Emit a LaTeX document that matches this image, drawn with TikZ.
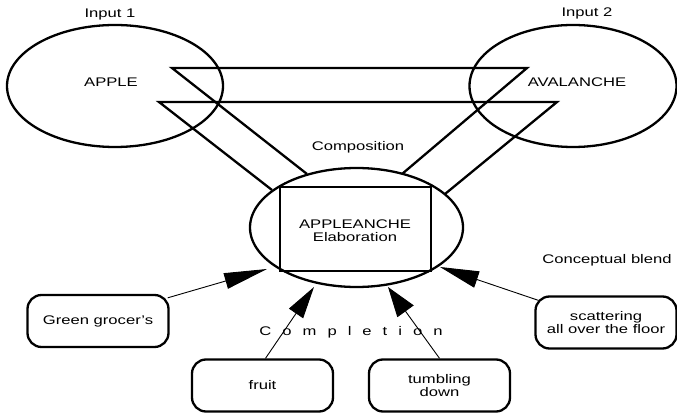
\documentclass[tikz,border=0pt]{standalone}
\usepackage{fontspec}
\setmainfont{Liberation Sans}[FakeStretch=1.33]
\usetikzlibrary{shapes.geometric,arrows.meta}
\newcommand{\spreadletters}[1]{\foreach \ch [count=\i] in {#1}{\ifnum\i>1\hspace{11pt}\fi\ch}}
\begin{document}
\begin{tikzpicture}[x=1pt,y=-1pt,
  every node/.style={font=\fontsize{12.5}{14}\selectfont, inner sep=0pt},
  bubble/.style={draw, ellipse, line width=2.3pt},
  funnel/.style={line width=2.3pt},
  frame/.style={draw, line width=2.6pt},
  itembox/.style={draw, rounded corners=14pt, line width=2.3pt, minimum width=141pt, minimum height=52pt, align=center},
  feed/.style={line width=0.9pt},
]
\useasboundingbox (0,0) rectangle (677,414);

% input spaces and the blended space
\node[bubble, minimum width=216pt, minimum height=122pt] (in1) at (115,86) {};
\node[bubble, minimum width=207pt, minimum height=122pt] (in2) at (573,86) {};
\node[bubble, minimum width=213pt, minimum height=119pt] (blend) at (356.5,227.5) {};

\node (apple) at (111,82) {APPLE};
\node (aval) at (577,82) {AVALANCHE};
\node (lab1) at (110,14) {Input 1};
\node (lab2) at (587,13) {Input 2};

% projection funnels from the inputs into the blend
\coordinate (fa) at (172,68);
\coordinate (fb) at (527,68);
\coordinate (fc) at (307,174);
\coordinate (fd) at (402,174);
\coordinate (ga) at (159,102);
\coordinate (gb) at (557,102);
\coordinate (gc) at (272,190);
\coordinate (gd) at (445,194);
\draw[funnel] (fc) -- (fa) -- (fb) -- (fd);
\draw[funnel] (gc) -- (ga) -- (gb) -- (gd);

\node (comp) at (358,147) {Composition};

% elaboration frame inside the blend
\node[frame, minimum width=151pt, minimum height=84pt] (elab) at (355.5,229) {};
\node[align=center] (elabtext) at (355,231) {APPLEANCHE\\[-1pt]Elaboration};

\node (cb) at (607,260) {Conceptual blend};

% completion sources
\node[itembox] (grocer) at (98,321) {Green grocer’s};
\node[itembox] (fruit) at (262.5,385.5) {fruit};
\node[itembox] (tumble) at (439.5,385.5) {tumbling\\[-1pt]down};
\node[itembox] (scatter) at (606,322.5) {scattering\\[-1pt]all over the floor};

\coordinate (t1) at (267,269);
\coordinate (t2) at (314,287);
\coordinate (t3) at (388,287);
\coordinate (t4) at (440,267);
\draw[feed, -{Triangle[length=43pt,width=16pt]}] (grocer.north east) ++(-2,4) coordinate (s1) (s1) -- (t1);
\draw[feed, -{Triangle[length=32pt,width=17pt]}] (fruit.north) ++(3,0) coordinate (s2) (s2) -- (t2);
\draw[feed, -{Triangle[length=30pt,width=20pt]}] (tumble.north) coordinate (s3) (s3) -- (t3);
\draw[feed, -{Triangle[length=39pt,width=17pt]}] (scatter.north west) ++(4,5) coordinate (s4) (s4) -- (t4);

\node (compl) at (351,332) {\spreadletters{C,o,m,p,l,e,t,i,o,n}};
\end{tikzpicture}
\end{document}
